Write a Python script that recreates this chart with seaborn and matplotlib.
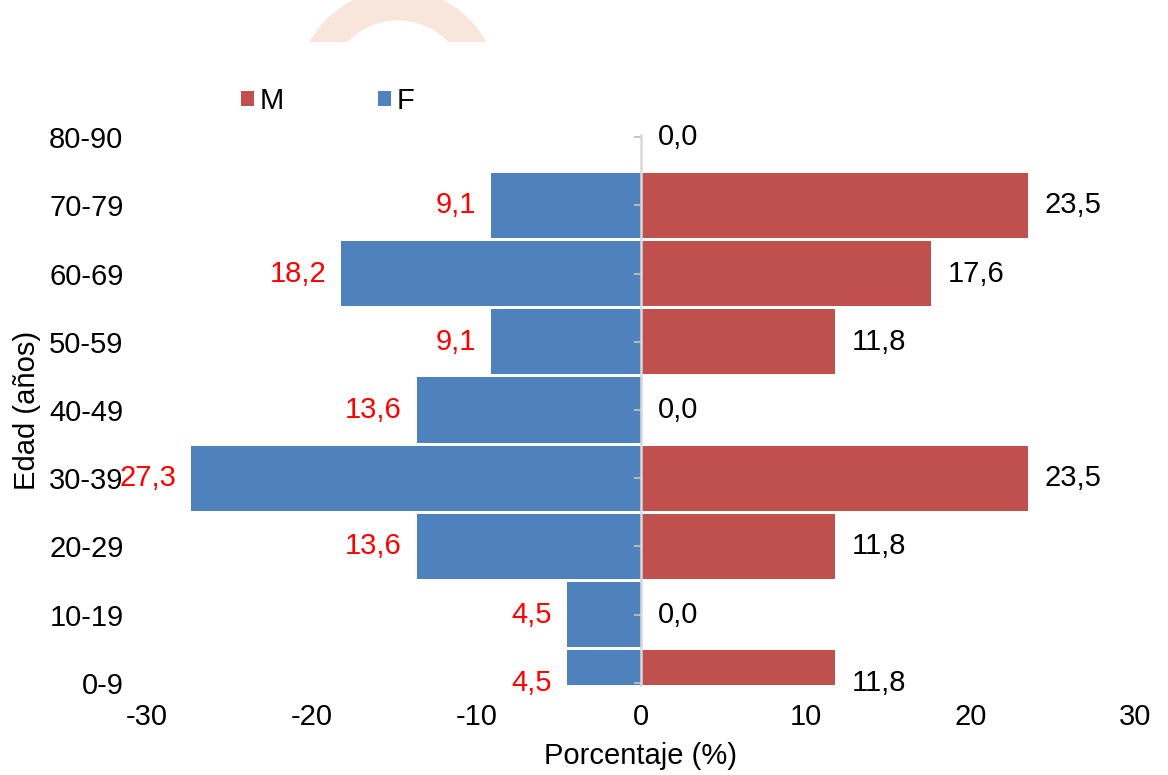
import matplotlib
matplotlib.use("Agg")
import matplotlib.pyplot as plt
import seaborn as sns
import pandas as pd
from matplotlib.patches import Wedge, Rectangle

# Data (percent per age group)
edades = ['80-90', '70-79', '60-69', '50-59', '40-49', '30-39', '20-29', '10-19', '0-9']
pct_m = [0.0, 23.5, 17.6, 11.8, 0.0, 23.5, 11.8, 0.0, 11.8]
pct_f = [0.0, 9.1, 18.2, 9.1, 13.6, 27.3, 13.6, 4.5, 4.5]

color_m = '#C0504D'
color_f = '#4F81BD'

sns.set_theme(style='white')
plt.rcParams['font.family'] = ['Liberation Sans', 'DejaVu Sans']
plt.rcParams['axes.unicode_minus'] = False
plt.rcParams['text.color'] = 'black'
plt.rcParams['axes.labelcolor'] = 'black'
plt.rcParams['xtick.color'] = 'black'
plt.rcParams['ytick.color'] = 'black'
fs = 21

df = pd.concat([
    pd.DataFrame({'Edad': edades, 'Porcentaje': pct_m, 'Sexo': 'M'}),
    pd.DataFrame({'Edad': edades, 'Porcentaje': [-v for v in pct_f], 'Sexo': 'F'}),
])

fig = plt.figure(figsize=(11.68, 7.75), dpi=100)
ax = fig.add_axes([147 / 1168, 1 - 685 / 775, 988 / 1168, 550 / 775])

sns.barplot(data=df, x='Porcentaje', y='Edad', hue='Sexo', order=edades,
            hue_order=['M', 'F'], palette={'M': color_m, 'F': color_f},
            dodge=False, width=0.955, orient='h', linewidth=0, saturation=1,
            ax=ax)

# data labels (the 0,0 of F in 80-90 is hidden behind M's in the original)
fmt = lambda v: f'{v:.1f}'.replace('.', ',')
ax.bar_label(ax.containers[0], labels=[fmt(v) for v in pct_m], padding=12,
             fontsize=fs, color='black')
ax.bar_label(ax.containers[1], labels=[fmt(v) if v > 0 else '' for v in pct_f],
             padding=11, fontsize=fs, color='red')

ax.set_xlim(-30, 30)
ax.set_xticks([-30, -20, -10, 0, 10, 20, 30])
ax.set_ylim(len(edades) - 1 + 0.03, -0.03)
for s in ax.spines.values():
    s.set_visible(False)
ax.tick_params(axis='both', length=0, labelsize=fs, labelcolor='black')
ax.tick_params(axis='y', pad=17)
ax.tick_params(axis='x', pad=13)
ax.set_xlabel('Porcentaje (%)', fontsize=fs, labelpad=8)
ax.set_ylabel('Edad (años)', fontsize=fs, labelpad=6)

# central axis line with tick marks at x = 0, pointing left
sec = ax.secondary_yaxis(0.5)
sec.set_zorder(5)
sec.set_yticks(range(len(edades)))
sec.set_yticklabels([])
sec.tick_params(axis='y', direction='in', length=5, width=1.3, color='#BFBFBF')
for s in sec.spines.values():
    s.set_color('#D9D9D9')
    s.set_linewidth(1.8)

# legend
ax.legend(ncol=2, loc='center left', bbox_to_anchor=(241 / 1168, 1 - 101 / 775),
          bbox_transform=fig.transFigure, frameon=False, fontsize=fs,
          handlelength=0.45, handleheight=0.45, handletextpad=0.2,
          columnspacing=3.2, borderpad=0, borderaxespad=0)

# faint watermark arc at the top
clip = Rectangle((0, 7.75 - 0.42), 11.68, 0.42, transform=fig.dpi_scale_trans)
ring = Wedge((3.98, 6.85), 1.006, 0, 360, width=0.31, transform=fig.dpi_scale_trans,
             facecolor='#F8E6DC', edgecolor='none')
fig.add_artist(ring)
ring.set_clip_path(clip)

fig.savefig('out.png', dpi=100)
